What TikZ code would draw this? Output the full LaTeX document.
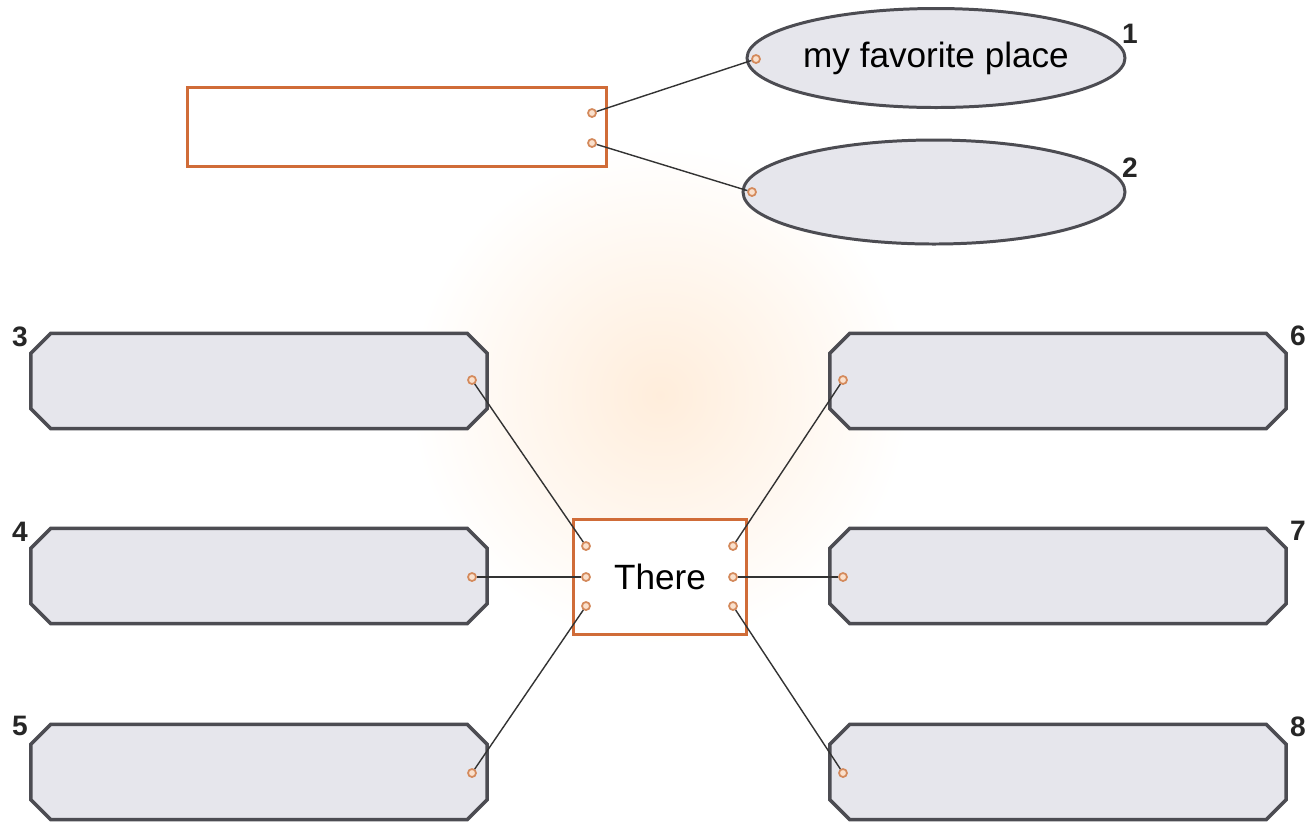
\documentclass[tikz,border=0pt]{standalone}
\usepackage{fontspec}
\setmainfont{Liberation Sans}
\definecolor{FrameOrange}{RGB}{208,108,56}
\definecolor{BoxGray}    {RGB}{230,230,236}
\definecolor{EdgeGray}   {RGB}{76,76,82}
\definecolor{DotFill}    {RGB}{250,224,204}
\definecolor{DotEdge}    {RGB}{212,138,92}
\usetikzlibrary{positioning,shapes.geometric}

\begin{document}
\begin{tikzpicture}[x=0.1mm,y=-0.1mm,
  frame/.style={draw=FrameOrange,line width=1.1pt,fill=white,inner sep=0pt},
  bubble/.style={ellipse,draw=EdgeGray,line width=0.85pt,fill=BoxGray,
    minimum width=37.8mm,minimum height=9.9mm,inner sep=0pt},
  slot/.style={rectangle,minimum width=45.5mm,minimum height=9.4mm,inner sep=0pt},
  slotedge/.style={draw=EdgeGray,line width=1pt,fill=BoxGray,line join=miter},
  pin/.style={circle,draw=DotEdge,fill=DotFill,line width=0.5pt,
    minimum size=0.8mm,inner sep=0pt},
  num/.style={font=\fontsize{8}{9}\selectfont\bfseries,text=black!85},
  link/.style={draw=black!80,line width=0.4pt}]
  \useasboundingbox (0,0) rectangle (1315,821);
  \fill[white] (0,0) rectangle (1315,821);
  %% faint glow behind the middle
  \shade[inner color=orange!14,outer color=white] (660,395) circle (250);
  %% top frame and the two bubbles
  \node[frame,minimum width=41.9mm,minimum height=7.9mm] (topic) at (397,127) {};
  \node[bubble,font=\fontsize{10}{12}\selectfont] (ovA) at (936,58) {my favorite place};
  \node[bubble,minimum width=38.2mm,minimum height=10.4mm] (ovB) at (934,192) {};
  \node[num] (n1) at (1130,34) {1};
  \node[num] (n2) at (1130,168) {2};
  %% six slots with cut corners
  \foreach \n/\px/\py in {l3/259/381,l4/259/576,l5/259/772,
                          r6/1058/381,r7/1058/576,r8/1058/772}{
    \node[slot] (\n) at (\px,\py) {};
    \filldraw[slotedge] ([xshift=2mm]\n.north west) -- ([xshift=-2mm]\n.north east)
      -- ([yshift=-2mm]\n.north east) -- ([yshift=2mm]\n.south east)
      -- ([xshift=-2mm]\n.south east) -- ([xshift=2mm]\n.south west)
      -- ([yshift=2mm]\n.south west) -- ([yshift=-2mm]\n.north west) -- cycle;
  }
  \node[num] (n3) at (20,337) {3};
  \node[num] (n4) at (20,532) {4};
  \node[num] (n5) at (20,726) {5};
  \node[num] (n6) at (1298,336) {6};
  \node[num] (n7) at (1298,531) {7};
  \node[num] (n8) at (1298,727) {8};
  %% centre frame
  \node[frame,minimum width=17.3mm,minimum height=11.5mm,
        font=\fontsize{10}{12}\selectfont] (there) at (660,577) {There};
  %% pins
  \node[pin] (tA) at (592,113) {};
  \node[pin] (tB) at (592,143) {};
  \node[pin] (pA) at (756,59) {};
  \node[pin] (pB) at (752,192) {};
  \node[pin] (p3) at (472,380) {};
  \node[pin] (p4) at (472,577) {};
  \node[pin] (p5) at (472,773) {};
  \node[pin] (p6) at (843,380) {};
  \node[pin] (p7) at (843,577) {};
  \node[pin] (p8) at (843,773) {};
  \node[pin] (c3) at (586,546) {};
  \node[pin] (c4) at (586,577) {};
  \node[pin] (c5) at (586,606) {};
  \node[pin] (c6) at (733,546) {};
  \node[pin] (c7) at (733,577) {};
  \node[pin] (c8) at (733,606) {};
  %% connectors
  \draw[link] (tA)--(pA);
  \draw[link] (tB)--(pB);
  \draw[link] (p3)--(c3);
  \draw[link] (p4)--(c4);
  \draw[link] (p5)--(c5);
  \draw[link] (p6)--(c6);
  \draw[link] (p7)--(c7);
  \draw[link] (p8)--(c8);
\end{tikzpicture}
\end{document}
